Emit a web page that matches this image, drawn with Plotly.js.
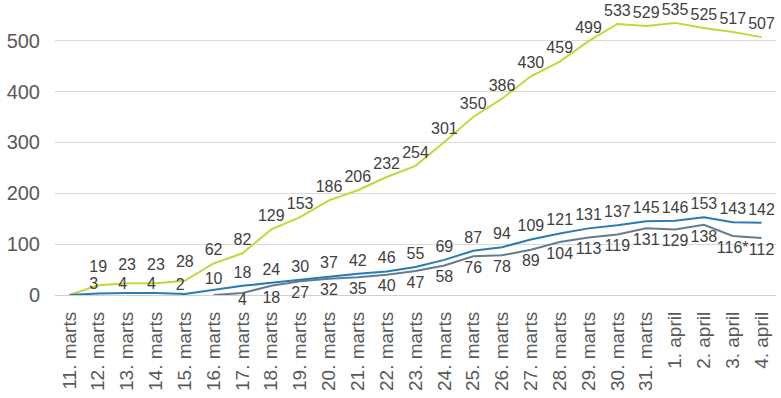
<!DOCTYPE html>
<html>
<head>
<meta charset="utf-8">
<script src="https://cdn.plot.ly/plotly-3.0.1.min.js"></script>
<style>html,body{margin:0;padding:0;background:#fff;}#chart{width:781px;height:398px;}</style>
</head>
<body>
<div id="chart"></div>
<script>
const categories = ["11. marts","12. marts","13. marts","14. marts","15. marts","16. marts","17. marts","18. marts","19. marts","20. marts","21. marts","22. marts","23. marts","24. marts","25. marts","26. marts","27. marts","28. marts","29. marts","30. marts","31. marts","1. april","2. april","3. april","4. april"];
const greenValues = [0,19,23,23,28,62,82,129,153,186,206,232,254,301,350,386,430,459,499,533,529,535,525,517,507];
const greenLabels = ["","19","23","23","28","62","82","129","153","186","206","232","254","301","350","386","430","459","499","533","529","535","525","517","507"];
const blueValues = [0,3,4,4,2,10,18,24,30,37,42,46,55,69,87,94,109,121,131,137,145,146,153,143,142];
const blueLabels = ["","3","4","4","2","10","18","24","30","37","42","46","55","69","87","94","109","121","131","137","145","146","153","143","142"];
const grayValues = [null,null,null,null,null,0,4,18,27,32,35,40,47,58,76,78,89,104,113,119,131,129,138,116,112];
const grayLabels = ["","","","","","","4","18","27","32","35","40","47","58","76","78","89","104","113","119","131","129","138","116*","112"];

// label offset control (invisible marker sizes) and label positions
const greenOffsets = categories.map((c, i) => (i >= 1 && i <= 4) ? 14 : 5);
const blueOffsets = categories.map((c, i) => (i >= 1 && i <= 4) ? 0 : (i === 5 ? 1 : 5));
const bluePositions = categories.map((c, i) => (i >= 1 && i <= 4) ? "top left" : "top center");
const grayOffsets = categories.map((c, i) => (i === 6 ? 0 : 6));

const labelFont = {family: "Liberation Sans, Arial, sans-serif", size: 16, color: "#404040"};
const traces = [
  {x: categories, y: greenValues, text: greenLabels, mode: "lines+markers+text", textposition: "top center",
   marker: {size: greenOffsets, opacity: 0}, line: {color: "#c2d83a", width: 2}, textfont: labelFont, cliponaxis: false, hoverinfo: "skip"},
  {x: categories, y: grayValues, text: grayLabels, mode: "lines+markers+text", textposition: "bottom center",
   marker: {size: grayOffsets, opacity: 0}, line: {color: "#627d91", width: 2}, textfont: labelFont, cliponaxis: false, connectgaps: false, hoverinfo: "skip"},
  {x: categories, y: blueValues, text: blueLabels, mode: "lines+markers+text", textposition: bluePositions,
   marker: {size: blueOffsets, opacity: 0}, line: {color: "#2a7bb3", width: 2}, textfont: labelFont, cliponaxis: false, hoverinfo: "skip"}
];
const layout = {
  width: 781, height: 398,
  margin: {l: 55, r: 5, t: 0, b: 103},
  paper_bgcolor: "#fff", plot_bgcolor: "#fff",
  showlegend: false,
  font: {family: "Liberation Sans, Arial, sans-serif", color: "#595959"},
  xaxis: {type: "category", range: [-0.5, 24.5], tickangle: -90, tickfont: {size: 19, color: "#595959"},
          showgrid: false, showline: false, ticks: "", zeroline: false, ticklabelstandoff: 12},
  yaxis: {range: [0, 580], tickvals: [0,100,200,300,400,500], tickfont: {size: 20, color: "#595959"},
          showgrid: true, gridcolor: "#d9d9d9", gridwidth: 1, zeroline: true, zerolinecolor: "#d0d0d0",
          zerolinewidth: 1, ticks: "", showline: false, ticklabelstandoff: 14}
};
Plotly.newPlot("chart", traces, layout, {displayModeBar: false, staticPlot: true});
</script>
</body>
</html>
